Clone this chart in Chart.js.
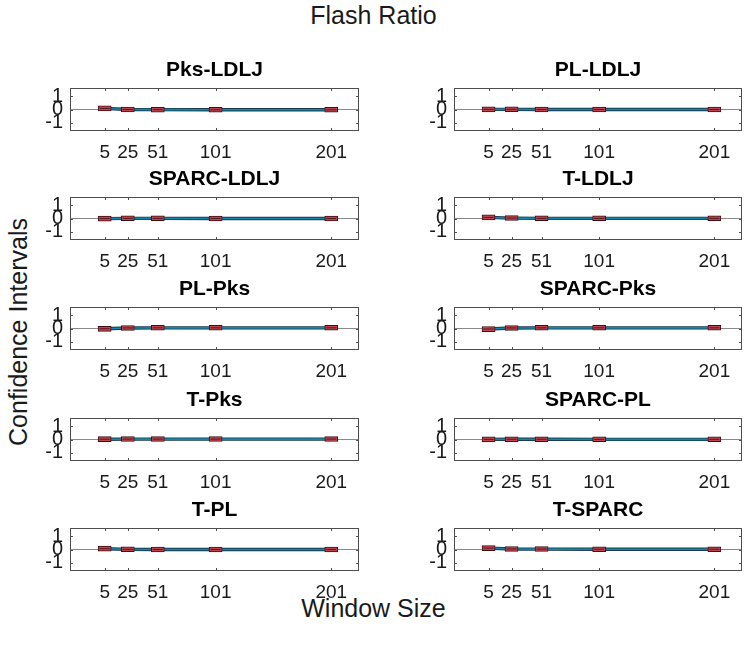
<!DOCTYPE html>
<html>
<head>
<meta charset="utf-8">
<script src="https://cdn.jsdelivr.net/npm/chart.js@4.4.1/dist/chart.umd.min.js"></script>
<style>
  body { margin: 0; background: #fff; }
  #fig { position: relative; width: 747px; height: 648px; overflow: hidden;
         font-family: "Liberation Sans", Arial, sans-serif; color: #1a1a1a; }
  #fig canvas { position: absolute; }
  .lbl { position: absolute; font-size: 25px; line-height: 28px; white-space: nowrap; }
  #figTitle { left: 0; width: 747px; top: 1px; text-align: center; }
  #xTitle { left: 0; width: 747px; top: 594px; text-align: center; }
  #yTitle { left: 18px; top: 332px; transform: translate(-50%, -50%) rotate(-90deg); }
</style>
</head>
<body>
<div id="fig">
  <div class="lbl" id="figTitle">Flash Ratio</div>
  <div class="lbl" id="yTitle">Confidence Intervals</div>
  <div class="lbl" id="xTitle">Window Size</div>
</div>
<script>
// window sizes on the x axis
const windowSizes = [5, 25, 51, 101, 201];
const yTicks = [-1, 0, 1];

// mean difference of each metric pair
const pksLdlj   = [0.08, 0.00, -0.01, -0.02, -0.02];
const plLdlj    = [0.01, 0.01, 0.00, 0.00, 0.00];
const sparcLdlj = [-0.01, 0.01, 0.01, 0.00, 0.00];
const tLdlj     = [0.08, 0.03, 0.01, 0.01, 0.01];
const plPks     = [-0.02, 0.04, 0.05, 0.05, 0.05];
const sparcPks  = [-0.04, 0.04, 0.05, 0.05, 0.05];
const tPks      = [0.02, 0.03, 0.03, 0.03, 0.03];
const sparcPl   = [0.01, 0.02, 0.02, 0.01, 0.01];
const tPl       = [0.06, 0.01, 0.00, 0.00, 0.00];
const tSparc    = [0.10, 0.04, 0.03, 0.02, 0.02];
// half width of the confidence interval at each window size
const ciHalf = [0.19, 0.18, 0.18, 0.18, 0.18];

const panels = [
  ['Pks-LDLJ', pksLdlj], ['PL-LDLJ', plLdlj],
  ['SPARC-LDLJ', sparcLdlj], ['T-LDLJ', tLdlj],
  ['PL-Pks', plPks], ['SPARC-Pks', sparcPks],
  ['T-Pks', tPks], ['SPARC-PL', sparcPl],
  ['T-PL', tPl], ['T-SPARC', tSparc]
];

const FONT = '"Liberation Sans", Arial, sans-serif';
const rowTops = [88, 197, 307, 418, 528];
const colLefts = [70, 454];
const colWidths = [292, 291];
const boxH = 43, yAxisW = 40, titleH = 30, xAxisH = 30;

// box outline and MATLAB-style inward ticks
const framePlugin = {
  id: 'frame',
  afterDatasetsDraw(chart) {
    const { ctx, chartArea: a, scales: { x, y } } = chart;
    ctx.save();
    ctx.strokeStyle = '#4d4d4d';
    ctx.lineWidth = 1;
    ctx.strokeRect(a.left + 0.5, a.top + 0.5, a.width - 1, a.height - 1);
    ctx.beginPath();
    x.ticks.forEach(t => {
      const px = Math.round(x.getPixelForValue(t.value)) + 0.5;
      ctx.moveTo(px, a.top); ctx.lineTo(px, a.top + 3);
      ctx.moveTo(px, a.bottom); ctx.lineTo(px, a.bottom - 3);
    });
    y.ticks.forEach(t => {
      const py = Math.round(y.getPixelForValue(t.value)) + 0.5;
      ctx.moveTo(a.left, py); ctx.lineTo(a.left + 3, py);
      ctx.moveTo(a.right, py); ctx.lineTo(a.right - 3, py);
    });
    ctx.stroke();
    ctx.restore();
  }
};

const fig = document.getElementById('fig');
panels.forEach(([name, means], i) => {
  const row = Math.floor(i / 2), col = i % 2;
  const cv = document.createElement('canvas');
  const w = yAxisW + colWidths[col] + 3;
  const h = titleH + boxH + xAxisH;
  cv.width = w; cv.height = h;
  cv.style.left = (colLefts[col] - yAxisW) + 'px';
  cv.style.top = (rowTops[row] - titleH) + 'px';
  fig.appendChild(cv);

  const pts = windowSizes.map((x, k) => ({ x, y: means[k] }));
  new Chart(cv, {
    type: 'bar',
    data: {
      datasets: [
        { type: 'scatter', data: pts, pointStyle: 'line', pointRadius: 5,
          borderColor: '#5a151b', borderWidth: 1, order: -1 },
        { data: windowSizes.map((x, k) => ({ x, y: [means[k] - ciHalf[k], means[k] + ciHalf[k]] })),
          backgroundColor: '#bf4650', borderColor: '#3f0d12', borderWidth: 1,
          borderSkipped: false, barThickness: 13, order: 0 },
        { type: 'line', data: pts, borderColor: '#1784a8', borderWidth: 1.6,
          pointRadius: 0, order: 1 },
        { type: 'line', data: pts, borderColor: '#173a4c', borderWidth: 3.4,
          pointRadius: 0, order: 2 }
      ]
    },
    options: {
      responsive: false,
      animation: false,
      layout: { padding: { right: 3 } },
      plugins: {
        legend: { display: false },
        tooltip: { enabled: false },
        title: { display: true, text: name, fullSize: false, color: '#000',
                 font: { family: FONT, size: 21, weight: 'bold' },
                 padding: { top: 0, bottom: 4.8 } }
      },
      scales: {
        x: {
          type: 'linear', min: -25, max: 225, offset: false,
          afterBuildTicks: s => { s.ticks = windowSizes.map(v => ({ value: v })); },
          afterFit: s => { s.height = xAxisH; },
          grid: { display: false, offset: false },
          border: { display: false },
          ticks: { color: '#1a1a1a', padding: 2, maxRotation: 0, autoSkip: false,
                   font: { family: FONT, size: 19 } }
        },
        y: {
          min: -1.6, max: 1.6,
          afterBuildTicks: s => { s.ticks = yTicks.map(v => ({ value: v })); },
          afterFit: s => { s.width = yAxisW; },
          grid: { drawTicks: false, lineWidth: 1,
                  color: c => (c.tick && c.tick.value === 0 ? '#8a8a8a' : 'rgba(0,0,0,0)') },
          border: { display: false },
          ticks: { color: '#1a1a1a', padding: 7, autoSkip: false,
                   font: { family: FONT, size: 20 } }
        }
      }
    },
    plugins: [framePlugin]
  });
});
</script>
</body>
</html>
